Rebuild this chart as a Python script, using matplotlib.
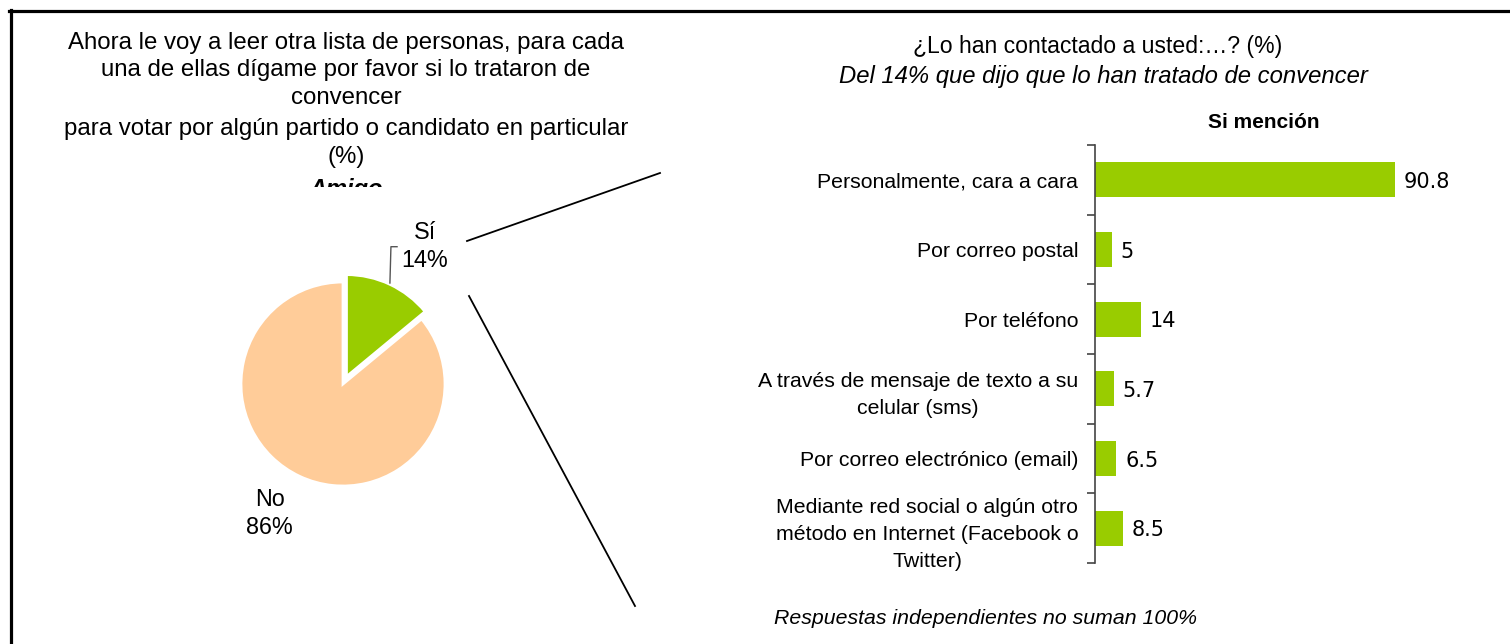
import matplotlib
matplotlib.use("Agg")
import matplotlib.pyplot as plt
from matplotlib.lines import Line2D
from matplotlib.patches import Rectangle

# ---- data ----
pie_labels = ["Sí", "No"]
pie_values = [14, 86]
bar_categories = [
    "Personalmente, cara a cara",
    "Por correo postal",
    "Por teléfono",
    "A través de mensaje de texto a su\ncelular (sms)",
    "Por correo electrónico (email)",
    "Mediante red social o algún otro\nmétodo en Internet (Facebook o\nTwitter)",
]
bar_values = [90.8, 5, 14, 5.7, 6.5, 8.5]
bar_value_labels = ["90.8", "5", "14", "5.7", "6.5", "8.5"]

GREEN = "#99CC00"
PEACH = "#FFCC99"

plt.rcParams['font.family'] = ['Liberation Sans', 'DejaVu Sans']

W, H = 1510, 644
fig = plt.figure(figsize=(W / 100, H / 100), dpi=100)
fig.patch.set_facecolor("white")

def fx(px):
    return px / W

def fy(py):
    return 1 - py / H

# ---- frame (left & top) ----
fig.add_artist(Line2D([fx(10.5), fx(10.5)], [fy(10), fy(644)], color="black", lw=2.3, transform=fig.transFigure))
fig.add_artist(Line2D([fx(9), fx(1510)], [fy(11), fy(11)], color="black", lw=2.3, transform=fig.transFigure))

# ---- left title ----
left_lines = [
    "Ahora le voy a leer otra lista de personas, para cada",
    "una de ellas dígame por favor si lo trataron de",
    "convencer",
    "para votar por algún partido o candidato en particular",
    "(%)",
]
left_y = [43, 70, 98, 129, 157]
for t, y in zip(left_lines, left_y):
    fig.text(fx(346), fy(y), t, ha="center", va="center", fontsize=17.3)
fig.text(fx(346), fy(196), "Amigo", ha="center", va="baseline", fontsize=17,
         fontweight="bold", fontstyle="italic")
fig.add_artist(Rectangle((fx(250), fy(215)), fx(200), fy(187) - fy(215),
                         facecolor="white", edgecolor="none",
                         transform=fig.transFigure, zorder=10))

# ---- pie ----
cx, cy, R = 343, 384, 102
half = 1.3 * R
ax_p = fig.add_axes([fx(cx - half), fy(cy + half), 2 * half / W, 2 * half / H])
ax_p.pie(pie_values, colors=[GREEN, PEACH], startangle=90, counterclock=False,
         explode=[0.08, 0], wedgeprops=dict(edgecolor="white", linewidth=2))
ax_p.set_xlim(-1.3, 1.3)
ax_p.set_ylim(-1.3, 1.3)
ax_p.set_aspect("auto")
ax_p.axis("off")
ax_p.text(0.80, 1.35, f"{pie_labels[0]}\n{pie_values[0]}%", ha="center", va="center",
          fontsize=16.8, linespacing=1.3)
ax_p.text(-0.72, -1.27, f"{pie_labels[1]}\n{pie_values[1]}%", ha="center", va="center",
          fontsize=16.8, linespacing=1.3)
ax_p.plot([0.46, 0.47, 0.53], [0.99, 1.346, 1.346], color="#555555", lw=1, clip_on=False)

# ---- connector lines ----
fig.add_artist(Line2D([fx(467), fx(660)], [fy(241), fy(173)], color="black", lw=1.3, transform=fig.transFigure))
fig.add_artist(Line2D([fx(469), fx(635)], [fy(296), fy(606)], color="black", lw=1.3, transform=fig.transFigure))

# ---- right titles ----
fig.text(fx(1098), fy(47), "¿Lo han contactado a usted:…? (%)", ha="center", va="center", fontsize=16.6)
fig.text(fx(1103), fy(76), "Del 14% que dijo que lo han tratado de convencer", ha="center", va="center",
         fontsize=17.2, fontstyle="italic")
fig.text(fx(1264), fy(122), "Si mención", ha="center", va="center", fontsize=15, fontweight="bold")
fig.text(fx(986), fy(618), "Respuestas independientes no suman 100%", ha="center", va="center",
         fontsize=15.3, fontstyle="italic")

# ---- bar chart ----
left_px, right_px, top_px, bot_px = 1095, 1425, 145, 563
ax_b = fig.add_axes([fx(left_px), fy(bot_px), (right_px - left_px) / W, (bot_px - top_px) / H])
ypos = list(range(len(bar_categories)))
ax_b.barh(ypos, bar_values, height=0.5, color=GREEN)
ax_b.set_xlim(0, 100)
ax_b.set_ylim(len(bar_categories) - 0.5, -0.5)
for s in ["top", "right", "bottom"]:
    ax_b.spines[s].set_visible(False)
ax_b.spines["left"].set_color("#444444")
ax_b.spines["left"].set_linewidth(1.2)
ax_b.set_xticks([])
ax_b.set_yticks(ypos)
labels = ax_b.set_yticklabels(bar_categories, fontsize=15.3)
for lab in labels:
    lab.set_linespacing(1.55)
    lab.set_multialignment("center")
ax_b.tick_params(axis="y", which="major", length=0, pad=12)
ax_b.set_yticks([i - 0.5 for i in range(len(bar_categories) + 1)], minor=True)
ax_b.tick_params(axis="y", which="minor", length=6, width=1.2, color="#444444")
for y, v, lab in zip(ypos, bar_values, bar_value_labels):
    ax_b.text(v + 2.7, y, lab, ha="left", va="center_baseline", fontsize=15, family="DejaVu Sans")

fig.savefig("out.png", dpi=100, facecolor="white")
